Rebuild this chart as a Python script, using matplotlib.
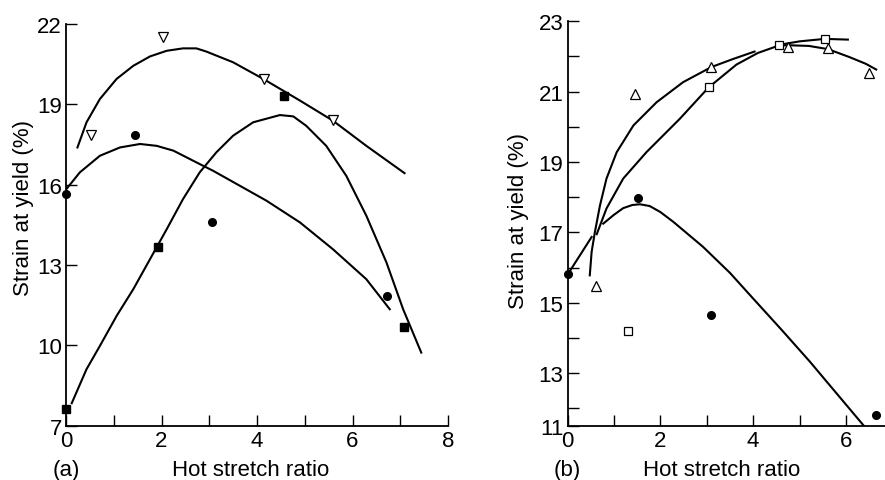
import matplotlib
matplotlib.use("Agg")
import matplotlib.pyplot as plt

plt.rcParams['font.family'] = ['Liberation Sans', 'DejaVu Sans']

# ---------------- Panel (a) data ----------------
a_tri_x = [0.52, 2.03, 4.14, 5.59]
a_tri_y = [17.85, 21.5, 19.95, 18.42]
a_cir_x = [0.0, 1.45, 3.06, 6.72]
a_cir_y = [15.65, 17.87, 14.6, 11.85]
a_sq_x = [0.0, 1.92, 4.56, 7.08]
a_sq_y = [7.63, 13.66, 19.3, 10.67]

a_tri_curve_x = [0.24, 0.43, 0.71, 1.06, 1.41, 1.76, 2.11, 2.45, 2.73, 2.94, 3.5, 4.13, 4.9, 5.59, 6.29, 7.09]
a_tri_curve_y = [17.39, 18.33, 19.2, 19.95, 20.44, 20.79, 21.0, 21.09, 21.09, 20.97, 20.57, 19.95, 19.14, 18.39, 17.45, 16.43]
a_cir_curve_x = [0.01, 0.29, 0.71, 1.13, 1.55, 1.9, 2.25, 2.8, 3.08, 4.2, 4.9, 5.59, 6.29, 6.78]
a_cir_curve_y = [15.84, 16.46, 17.08, 17.39, 17.52, 17.45, 17.27, 16.77, 16.52, 15.4, 14.59, 13.59, 12.47, 11.35]
a_sq_curve_x = [0.12, 0.43, 0.71, 1.06, 1.41, 1.76, 2.11, 2.45, 2.8, 3.15, 3.5, 3.92, 4.48, 4.76, 5.03, 5.45, 5.87, 6.29, 6.71, 7.06, 7.44]
a_sq_curve_y = [7.84, 9.11, 9.98, 11.1, 12.1, 13.22, 14.34, 15.46, 16.46, 17.21, 17.83, 18.33, 18.6, 18.55, 18.2, 17.45, 16.33, 14.84, 13.1, 11.35, 9.73]

a_xticks = [0, 2, 4, 6, 8]
a_xminor = [1, 3, 5, 7]
a_yticks = [7, 10, 13, 16, 19, 22]

# ---------------- Panel (b) data ----------------
b_cir_x = [0.02, 1.51, 3.09, 6.65]
b_cir_y = [15.81, 17.98, 14.65, 11.82]
b_sq_x = [1.31, 3.04, 4.55, 5.54]
b_sq_y = [14.21, 21.12, 22.34, 22.49]
b_tri_x = [0.61, 1.45, 3.09, 4.75, 5.61, 6.49]
b_tri_y = [15.47, 20.92, 21.7, 22.26, 22.23, 21.53]

b_cir_curve1_x = [0.05, 0.52]
b_cir_curve1_y = [15.9, 16.87]
b_cir_curve2_x = [0.77, 1.0, 1.2, 1.4, 1.56, 1.77, 2.0, 2.28, 2.92, 3.5, 4.0, 4.6, 5.22, 5.8, 6.4]
b_cir_curve2_y = [17.25, 17.5, 17.69, 17.78, 17.8, 17.75, 17.58, 17.3, 16.59, 15.85, 15.12, 14.25, 13.33, 12.42, 11.48]
b_tri_curve_x = [0.48, 0.52, 0.59, 0.70, 0.84, 1.06, 1.42, 1.92, 2.49, 3.1, 3.57, 4.03]
b_tri_curve_y = [15.78, 16.45, 17.01, 17.77, 18.53, 19.28, 20.04, 20.7, 21.27, 21.7, 21.93, 22.14]
b_sq_curve_x = [0.63, 0.84, 1.2, 1.7, 2.42, 3.04, 3.64, 4.1, 4.55, 4.75, 5.2, 5.61, 6.08, 6.43, 6.65]
b_sq_curve_y = [16.95, 17.68, 18.53, 19.28, 20.23, 21.12, 21.77, 22.1, 22.31, 22.32, 22.3, 22.21, 21.98, 21.79, 21.63]
b_sq_curve2_x = [4.6, 5.0, 5.54, 6.04]
b_sq_curve2_y = [22.34, 22.43, 22.5, 22.48]

b_xticks = [0, 2, 4, 6]
b_xminor = [1, 3, 5]
b_yticks = [11.5, 13, 15, 17, 19, 21, 23]
b_ytick_labels = ['11', '13', '15', '17', '19', '21', '23']
b_yminor = [12, 14, 16, 18, 20, 22]

FS = 16
LW = 1.5

fig = plt.figure(figsize=(8.85, 4.81), dpi=100)
axA = fig.add_axes([66 / 885, 54.3 / 481, 382 / 885, 401.7 / 481])
axB = fig.add_axes([567.5 / 885, 53.7 / 481, 317.5 / 885, 405 / 481])

for ax in (axA, axB):
    for s in ('top', 'right'):
        ax.spines[s].set_visible(False)
    for s in ('left', 'bottom'):
        ax.spines[s].set_linewidth(1.3)
    ax.tick_params(which='both', direction='in', length=8, width=1.0,
                   labelsize=FS, pad=3)
    ax.set_facecolor('white')

# Panel (a)
axA.plot(a_tri_curve_x, a_tri_curve_y, color='black', lw=LW)
axA.plot(a_cir_curve_x, a_cir_curve_y, color='black', lw=LW)
axA.plot(a_sq_curve_x, a_sq_curve_y, color='black', lw=LW)
axA.plot(a_tri_x, a_tri_y, linestyle='none', marker='v', markersize=7.5,
         markerfacecolor='white', markeredgecolor='black', markeredgewidth=0.9, clip_on=False)
axA.plot(a_cir_x, a_cir_y, linestyle='none', marker='o', markersize=5.5,
         color='black', clip_on=False)
axA.plot(a_sq_x, a_sq_y, linestyle='none', marker='s', markersize=5.5,
         color='black', clip_on=False)
axA.set_xlim(0, 8)
axA.set_ylim(7, 22)
axA.set_xticks(a_xticks)
axA.set_xticks(a_xminor, minor=True)
axA.set_yticks(a_yticks)
axA.set_ylabel('Strain at yield (%)', fontsize=FS)
axA.yaxis.set_label_coords(-0.084, 0.545)
axA.text(0.4835, -0.108, 'Hot stretch ratio', transform=axA.transAxes,
         ha='center', va='center', fontsize=FS)
axA.text(0.0, -0.108, '(a)', transform=axA.transAxes,
         ha='center', va='center', fontsize=FS)

# Panel (b)
axB.plot(b_cir_curve1_x, b_cir_curve1_y, color='black', lw=LW)
axB.plot(b_cir_curve2_x, b_cir_curve2_y, color='black', lw=LW)
axB.plot(b_tri_curve_x, b_tri_curve_y, color='black', lw=LW)
axB.plot(b_sq_curve_x, b_sq_curve_y, color='black', lw=LW)
axB.plot(b_sq_curve2_x, b_sq_curve2_y, color='black', lw=LW)
axB.plot(b_cir_x, b_cir_y, linestyle='none', marker='o', markersize=5.5,
         color='black', clip_on=False)
axB.plot(b_sq_x, b_sq_y, linestyle='none', marker='s', markersize=5.5,
         markerfacecolor='white', markeredgecolor='black', markeredgewidth=0.9, clip_on=False)
axB.plot(b_tri_x, b_tri_y, linestyle='none', marker='^', markersize=6.5,
         markerfacecolor='white', markeredgecolor='black', markeredgewidth=0.9, clip_on=False)
axB.set_xlim(0, 6.84)
axB.set_ylim(11.49, 23)
axB.set_xticks(b_xticks)
axB.set_xticks(b_xminor, minor=True)
axB.set_yticks(b_yticks)
axB.set_yticklabels(b_ytick_labels)
axB.set_yticks(b_yminor, minor=True)
axB.set_ylabel('Strain at yield (%)', fontsize=FS)
axB.yaxis.set_label_coords(-0.121, 0.509)
axB.text(0.487, -0.107, 'Hot stretch ratio', transform=axB.transAxes,
         ha='center', va='center', fontsize=FS)
axB.text(0.0, -0.107, '(b)', transform=axB.transAxes,
         ha='center', va='center', fontsize=FS)

fig.savefig('out.png', dpi=100, facecolor='white')
